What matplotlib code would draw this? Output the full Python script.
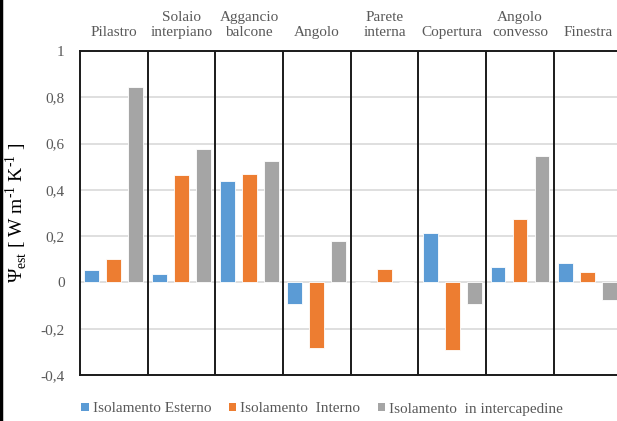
import matplotlib
matplotlib.use('Agg')
import matplotlib.pyplot as plt
from matplotlib.patches import Patch
from matplotlib.lines import Line2D
from matplotlib.ticker import FuncFormatter, MultipleLocator
import numpy as np

plt.rcParams['font.family'] = ['Liberation Serif', 'DejaVu Serif']

categories = ['Pilastro', 'Solaio\ninterpiano', 'Aggancio\nbalcone', 'Angolo',
              'Parete\ninterna', 'Copertura', 'Angolo\nconvesso', 'Finestra']
esterno = [0.052, 0.035, 0.44, -0.095, 0.0, 0.213, 0.065, 0.083]
interno = [0.10, 0.463, 0.468, -0.284, 0.059, -0.29, 0.275, 0.047]
intercapedine = [0.845, 0.577, 0.525, 0.177, 0.0, -0.095, 0.545, -0.077]
series_names = ['Isolamento Esterno', 'Isolamento  Interno', 'Isolamento  in intercapedine']
series_colors = ['#5B9BD5', '#ED7D31', '#A5A5A5']

grey_text = '#595959'

fig = plt.figure(figsize=(6.17, 4.21), dpi=100)
ax = fig.add_axes([80 / 617, 1 - 375 / 421, 541.5 / 617, 324 / 421])

x = np.arange(len(categories))
offset = 0.325
width = 0.22
for k, (vals, col) in enumerate(zip([esterno, interno, intercapedine], series_colors)):
    ax.bar(x + (k - 1) * offset, vals, width, color=col,
           edgecolor='white', linewidth=0.6, zorder=3)

ax.set_xlim(-0.5, len(categories) - 0.5)
ax.set_ylim(-0.4, 1.0)
ax.yaxis.set_major_locator(MultipleLocator(0.2))

def comma_fmt(v, pos):
    if abs(v) < 1e-9:
        return '0'
    if abs(v - round(v)) < 1e-9:
        return '%d' % round(v)
    return ('%.1f' % v).replace('.', ',')

ax.yaxis.set_major_formatter(FuncFormatter(comma_fmt))
ax.tick_params(axis='y', length=0, labelsize=11, labelcolor=grey_text, pad=11)
ax.set_xticks([])
ax.grid(axis='y', color='#D9D9D9', linewidth=1.2, zorder=0)

# category separators
for b in np.arange(0.5, len(categories) - 0.5, 1.0):
    ax.axvline(b, color='#1a1a1a', linewidth=1.4, zorder=4)

for side in ['left', 'bottom', 'top']:
    ax.spines[side].set_color('#1a1a1a')
    ax.spines[side].set_linewidth(1.4)
    ax.spines[side].set_zorder(5)
ax.spines['right'].set_visible(False)

# category names above the plot area
for i, name in enumerate(categories):
    ax.text(i, 1.046, name, transform=ax.get_xaxis_transform(), ha='center',
            va='baseline', fontsize=11, color=grey_text, linespacing=1.25,
            multialignment='center')

ax.set_ylabel('Ψ$_{\\mathregular{est}}$ [ W m$^{\\mathregular{\u2010 1}}$ K$^{\\mathregular{\u2010 1}}$ ]',
              fontsize=14, color='black', labelpad=8)

handles = [Patch(facecolor=c, edgecolor='none') for c in series_colors]
leg = fig.legend(handles, series_names, loc='center', bbox_to_anchor=(322 / 617, 1 - 409 / 421),
                 ncol=3, frameon=False, fontsize=11, handlelength=0.5, handleheight=0.5,
                 handletextpad=0.25, columnspacing=1.15, borderaxespad=0)
for t in leg.get_texts():
    t.set_color(grey_text)

# outer border on the left edge
fig.add_artist(Line2D([0.002, 0.002], [0, 1], transform=fig.transFigure,
                      color='black', linewidth=2.5))

fig.savefig('out.png', dpi=100)
